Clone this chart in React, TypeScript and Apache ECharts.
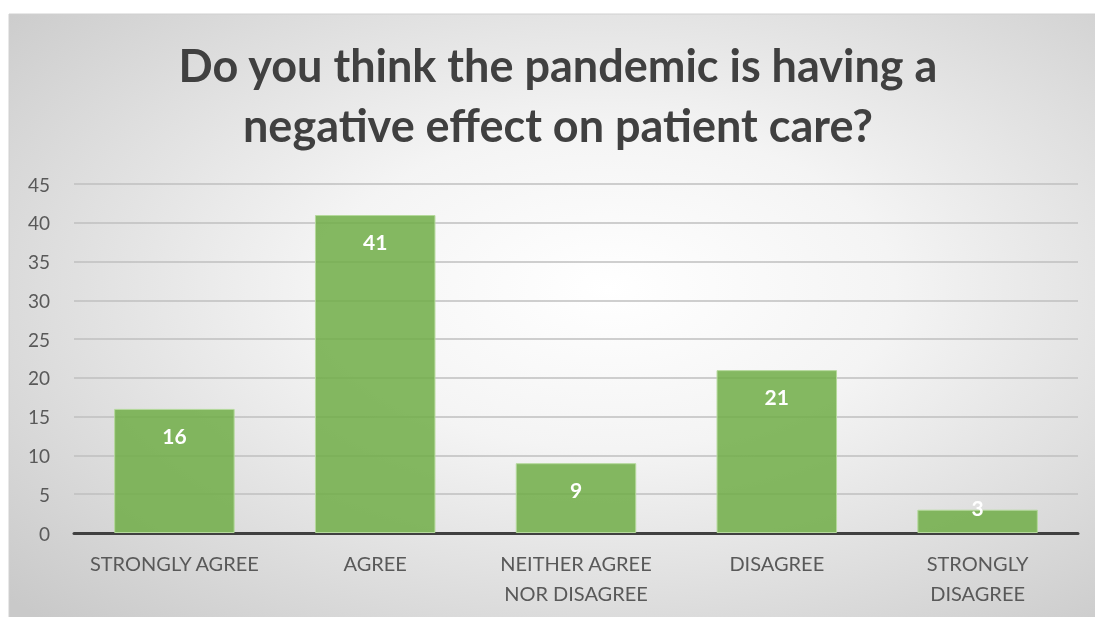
import React, { useEffect, useRef } from "react";
import * as echarts from "echarts";

const titleText = "Do you think the pandemic is having a\nnegative effect on patient care?";
const categories = ["STRONGLY AGREE", "AGREE", "NEITHER AGREE\nNOR DISAGREE", "DISAGREE", "STRONGLY\nDISAGREE"];
const values = [16, 41, 9, 21, 3];
const yTicks = { min: 0, max: 45, interval: 5 };

export default function App() {
  const ref = useRef<HTMLDivElement>(null);
  useEffect(() => {
    if (!ref.current) return;
    const chart = echarts.init(ref.current, undefined, { renderer: "svg" });
    const font = "Lato, 'Open Sans', sans-serif";
    chart.setOption({
      animation: false,
      graphic: [
        {
          type: "rect",
          z: -10,
          silent: true,
          shape: { x: 9, y: 14, width: 1090, height: 610 },
          style: {
            fill: new echarts.graphic.RadialGradient(0.55, 0.45, 0.75, [
              { offset: 0, color: "#ffffff" },
              { offset: 0.35, color: "#f4f4f4" },
              { offset: 1, color: "#c9c9c9" },
            ]),
            stroke: "#d0d0d0",
            lineWidth: 1,
          },
        },
        {
          type: "text",
          x: 558,
          y: 35,
          z: 10,
          style: {
            text: titleText,
            textAlign: "center",
            textVerticalAlign: "top",
            fontFamily: font,
            fontSize: 45,
            fontWeight: "bold",
            fill: "#404040",
            lineHeight: 60,
          },
        },
      ],
      grid: { left: 74, right: 17, top: 184, bottom: 84, containLabel: false },
      xAxis: {
        type: "category",
        data: categories,
        axisLine: { lineStyle: { color: "#404040", width: 3 } },
        axisTick: { show: false },
        axisLabel: {
          fontFamily: font,
          fontSize: 20,
          color: "#595959",
          lineHeight: 30,
          margin: 15,
          interval: 0,
        },
      },
      yAxis: {
        type: "value",
        min: yTicks.min,
        max: yTicks.max,
        interval: yTicks.interval,
        axisLine: { show: false },
        axisTick: { show: false },
        splitLine: { lineStyle: { color: "#bfbfbf", width: 1.5 } },
        axisLabel: { fontFamily: font, fontSize: 19, color: "#595959", margin: 24 },
      },
      series: [
        {
          type: "bar",
          data: values.map((v, i) =>
            i === 4 ? { value: v, label: { position: "insideTop", distance: 0, offset: [0, -13] } } : v
          ),
          barCategoryGap: "40%",
          itemStyle: {
            color: "rgba(112,173,71,0.85)",
            borderColor: "#b5d99c",
            borderWidth: 1,
          },
          label: {
            show: true,
            position: "insideTop",
            distance: 16,
            fontFamily: font,
            fontSize: 21,
            fontWeight: "bold",
            color: "#ffffff",
          },
        },
      ],
    });
    return () => chart.dispose();
  }, []);
  return (
    <div
      ref={ref}
      style={{ position: "fixed", left: 0, top: 0, width: 1095, height: 617 }}
    />
  );
}
